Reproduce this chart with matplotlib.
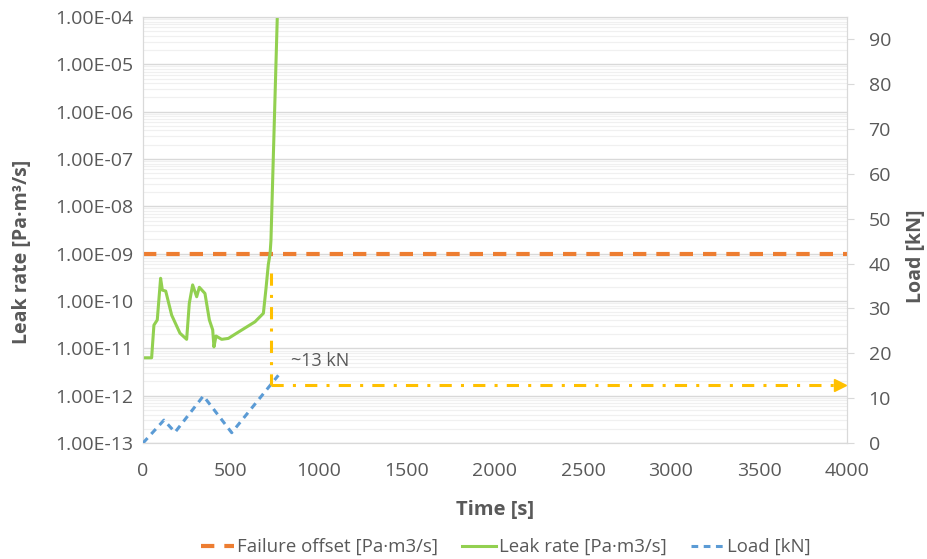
import numpy as np
import matplotlib
matplotlib.use("Agg")
import matplotlib.pyplot as plt
from matplotlib.lines import Line2D
from matplotlib.ticker import FixedLocator, LogLocator, NullFormatter

plt.rcParams['font.family'] = ['Open Sans', 'DejaVu Sans']

# leak rate [Pa m3/s] vs time [s]
leak_t = [0, 49, 62, 81, 100, 110, 129, 163, 210, 248, 263, 282, 305, 320,
          352, 377, 396, 403, 415, 447, 485, 532, 636, 684, 699, 712, 722,
          727, 763]
leak_log = [-11.2, -11.2, -10.51, -10.4, -9.52, -9.77, -9.79, -10.3, -10.68,
            -10.81, -10.05, -9.66, -9.91, -9.71, -9.84, -10.4, -10.61, -10.97,
            -10.74, -10.81, -10.79, -10.68, -10.44, -10.26, -9.73, -9.23,
            -9.0, -8.72, -4.0]
leak_rate = [10.0 ** v for v in leak_log]

# load [kN] vs time [s]
load_t = [0, 119, 182, 343, 504, 769]
load_kn = [0, 5.1, 2.4, 10.5, 2.3, 15.1]

# failure offset
fail_t = [0, 4000]
fail_rate = [1e-9, 1e-9]

# annotation (~13 kN at failure)
fail_time = 727
fail_load = 13
marker_top = 38
arrow_end = 4000

GREEN = '#92D050'
ORANGE = '#ED7D31'
BLUE = '#5B9BD5'
YELLOW = '#FFC000'
TXT = '#595959'

fig = plt.figure(figsize=(9.28, 5.59), dpi=100)
ax = fig.add_axes([0.1541, 0.2075, 0.7586, 0.7621])
ax2 = ax.twinx()

ax.set_yscale('log')
ax.set_xlim(0, 4000)
ax.set_ylim(1e-13, 1e-4)
ax2.set_ylim(0, 95)

ax.yaxis.set_major_locator(LogLocator(base=10, numticks=20))
ax.yaxis.set_minor_locator(LogLocator(base=10, subs=np.arange(2, 10), numticks=20))
ax.yaxis.set_minor_formatter(NullFormatter())
ax.yaxis.set_major_formatter(lambda v, p: '%.2E' % v)
ax.grid(True, which='major', axis='y', color='#d9d9d9', lw=1.0)
ax.grid(True, which='minor', axis='y', color='#f0f0f0', lw=0.9)
ax.set_axisbelow(True)
ax.xaxis.set_major_locator(FixedLocator(np.arange(0, 4001, 500)))
ax2.yaxis.set_major_locator(FixedLocator(np.arange(0, 91, 10)))

ax.plot(fail_t, fail_rate, color=ORANGE, lw=3, dashes=(3.2, 2.4), zorder=3)
ax.plot(leak_t, leak_rate, color=GREEN, lw=2.2, zorder=4)

ax2.plot(load_t, load_kn, color=BLUE, lw=2.2, dashes=(2.2, 1.8), zorder=3)
ax2.plot([fail_time, fail_time], [marker_top, fail_load], color=YELLOW, lw=2.2,
         dashes=(4, 3, 1, 3), zorder=5)
ax2.plot([fail_time, arrow_end - 40], [fail_load, fail_load], color=YELLOW, lw=2.2,
         dashes=(4, 3, 1, 3), zorder=5)
ax2.plot([arrow_end - 40], [fail_load], marker='>', ms=8, color=YELLOW,
         clip_on=False, zorder=5)
ax2.text(840, 18.3, '~13 kN', color=TXT, fontsize=13, va='center', ha='left')

for a in (ax, ax2):
    for s in a.spines.values():
        s.set_color('#d9d9d9')
ax.tick_params(axis='both', which='both', length=0, labelsize=14,
               labelcolor=TXT, pad=7)
ax.tick_params(axis='x', pad=14)
ax2.tick_params(axis='y', length=5, color='#d9d9d9', labelsize=14,
                labelcolor=TXT, pad=10.5)

ax.set_ylabel('Leak rate [Pa·m³/s]', fontsize=14, fontweight='bold',
              color=TXT)
ax.yaxis.set_label_coords(-0.157, 0.448)
ax2.set_ylabel('Load [kN]', fontsize=14, fontweight='bold', color=TXT)
ax2.yaxis.set_label_coords(1.084, 0.439)
ax.set_xlabel('Time [s]', fontsize=14.5, fontweight='bold', color=TXT,
              labelpad=14)

handles = [
    Line2D([], [], color=ORANGE, lw=3, dashes=(3.2, 2.4)),
    Line2D([], [], color=GREEN, lw=2.2),
    Line2D([], [], color=BLUE, lw=2.2, dashes=(2.2, 1.8)),
]
labels = ['Failure offset [Pa·m3/s]', 'Leak rate [Pa·m3/s]', 'Load [kN]']
fig.legend(handles, labels, loc='center', bbox_to_anchor=(0.545, 0.021),
           ncol=3, frameon=False, fontsize=13.4, labelcolor=TXT,
           handlelength=1.8, handletextpad=0.15, columnspacing=1.3)

fig.savefig('out.png', dpi=100)
